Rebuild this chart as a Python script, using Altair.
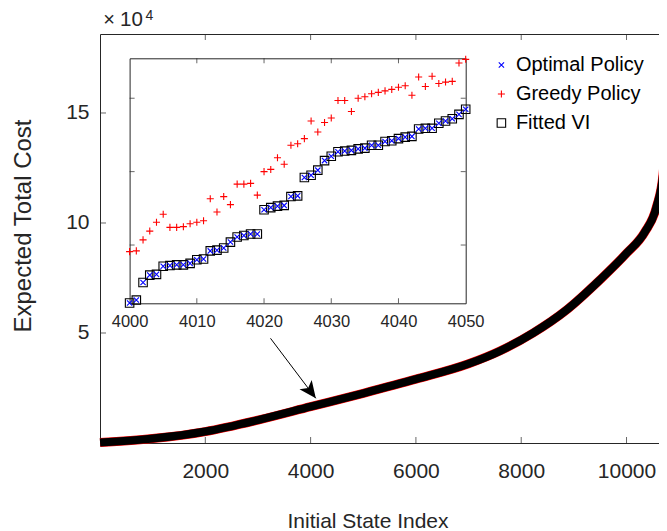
import altair as alt
import pandas as pd

# ---------------- data ----------------
# main curve (Initial State Index, Expected Total Cost)
main_x = [1, 1000, 2000, 3000, 4000, 5000, 6000, 7000, 7593, 8226, 8860, 9493, 10000, 10348, 10570, 10696, 10741, 10766]
main_y = [200, 2000, 5200, 10400, 16500, 22600, 29000, 36000, 41800, 50000, 60450, 74090, 86220, 95900, 107400, 122600, 142270, 157400]

# inset (states 4000..4050)
inset_idx = list(range(4000, 4051))
optimal = [16521, 16525, 16549, 16559, 16560, 16571, 16572, 16573, 16573, 16575,
           16580, 16581, 16592, 16593, 16596, 16604, 16611, 16613, 16615, 16615,
           16648, 16651, 16653, 16654, 16666, 16667, 16692, 16695, 16702, 16715,
           16721, 16727, 16728, 16729, 16731, 16732, 16736, 16736, 16741, 16742,
           16745, 16747, 16748, 16758, 16759, 16759, 16766, 16769, 16772, 16778, 16785]
greedy = [16591, 16592, 16607, 16619, 16631, 16642, 16624, 16624, 16625, 16629,
          16631, 16633, 16663, 16645, 16666, 16655, 16683, 16683, 16684, 16668,
          16700, 16703, 16719, 16710, 16736, 16738, 16745, 16769, 16754, 16767,
          16773, 16797, 16797, 16782, 16800, 16802, 16806, 16808, 16810, 16812,
          16815, 16817, 16804, 16829, 16816, 16830, 16820, 16822, 16823, 16848, 16853]
fitted = list(optimal)

series_names = ["Optimal Policy", "Greedy Policy", "Fitted VI"]

main_xticks = [2000, 4000, 6000, 8000, 10000]
main_yticks = [50000, 100000, 150000]
inset_xticks = [4000, 4010, 4020, 4030, 4040, 4050]
inset_xticks_inner = [4010, 4020, 4030, 4040]
inset_yticks = [16600, 16700, 16800]

main_xdom = [0, 10617]
main_ydom = [0, 185900]
inset_xdom = [4000, 4050]
inset_ydom = [16520.6, 16854.4]

# arrow annotation (main data coordinates): tail -> tip
arrow_x = [3238, 4099]
arrow_y = [47590, 20316]

# ---------------- style ----------------
F = "Liberation Sans"
TXT = "#262626"
W, H = 559, 409

mxs = alt.Scale(domain=main_xdom, nice=False, zero=False)
mys = alt.Scale(domain=main_ydom, nice=False, zero=False)
ixs = alt.Scale(domain=inset_xdom, range=[29.6, 365.7], nice=False, zero=False)
iys = alt.Scale(domain=inset_ydom, range=[269.3, 24.3], nice=False, zero=False)

main_df = pd.DataFrame({"x": main_x, "y": main_y})

red_band = alt.Chart(main_df).mark_line(color="#ff0000", strokeWidth=9, clip=False,
                                        interpolate="monotone").encode(
    x=alt.X("x:Q", scale=mxs, axis=alt.Axis(
        orient="bottom", values=main_xticks, title="Initial State Index", format="d",
        tickSize=0, labelPadding=17, labelFontSize=21, labelFont=F, labelColor=TXT,
        labelFlush=False, domainColor=TXT, grid=False,
        titleFont=F, titleFontSize=21, titleFontWeight="normal", titleColor=TXT,
        titleX=267.5, titleY=84, titleAlign="center", titleBaseline="alphabetic")),
    y=alt.Y("y:Q", scale=mys, axis=alt.Axis(
        orient="left", values=main_yticks, labelExpr="datum.value / 10000",
        title="Expected Total Cost", tickSize=0, labelPadding=11, labelFontSize=21,
        labelFont=F, labelColor=TXT, domainColor=TXT, grid=False,
        titleFont=F, titleFontSize=24, titleFontWeight="normal", titleColor=TXT,
        titleX=-70, titleY=191.5, titleAlign="center", titleAngle=270,
        titleBaseline="alphabetic")),
    order=alt.Order("x:Q"),
)

black_band = alt.Chart(main_df).mark_line(color="#000000", strokeWidth=8, clip=False,
                                          interpolate="monotone").encode(
    x=alt.X("x:Q", scale=mxs, axis=None),
    y=alt.Y("y:Q", scale=mys, axis=None),
    order=alt.Order("x:Q"),
)

mxt_df = pd.DataFrame({"t": main_xticks})
myt_df = pd.DataFrame({"t": main_yticks})

main_top = alt.Chart(mxt_df).mark_tick(orient="vertical", size=6, thickness=1, color=TXT, yOffset=3).encode(
    x=alt.X("t:Q", scale=mxs, axis=alt.Axis(orient="top", labels=False, ticks=False, title=None,
                                            domainColor=TXT, grid=False)),
    y=alt.YDatum(main_ydom[1], scale=mys, axis=None),
)
main_bottom = alt.Chart(mxt_df).mark_tick(orient="vertical", size=6, thickness=1, color=TXT, yOffset=-3).encode(
    x=alt.X("t:Q", scale=mxs, axis=None),
    y=alt.YDatum(main_ydom[0], scale=mys, axis=None),
)
main_left = alt.Chart(myt_df).mark_tick(orient="horizontal", size=6, thickness=1, color=TXT, xOffset=3).encode(
    y=alt.Y("t:Q", scale=mys, axis=None),
    x=alt.XDatum(main_xdom[0], scale=mxs, axis=None),
)

# inset points
rows = []
for name, vals in zip(series_names, [optimal, greedy, fitted]):
    for i, v in zip(inset_idx, vals):
        rows.append({"idx": i, "val": v, "series": name})
inset_df = pd.DataFrame(rows)

XPATH = "M-1,-1L1,1M-1,1L1,-1"
PPATH = "M-1,0L1,0M0,-1L0,1"

inset_pts = alt.Chart(inset_df).mark_point(filled=False, strokeWidth=1.1, opacity=1).encode(
    x=alt.X("idx:Q", scale=ixs, axis=alt.Axis(
        orient="bottom", offset=-139.7, values=inset_xticks, tickSize=0, labelPadding=10,
        labelFontSize=16.5, labelFont=F, labelColor=TXT, labelFlush=False, domainColor=TXT,
        grid=False, title=None, format="d")),
    y=alt.Y("val:Q", scale=iys, axis=alt.Axis(
        orient="left", offset=-29.6, values=inset_yticks, labels=False, ticks=False,
        domainColor=TXT, grid=False, title=None)),
    color=alt.Color("series:N", scale=alt.Scale(domain=series_names, range=["#0000ff", "#ff0000", "#000000"]),
                    title=None),
    shape=alt.Shape("series:N", scale=alt.Scale(domain=series_names, range=[XPATH, PPATH, "square"]),
                    title=None),
    size=alt.Size("series:N", scale=alt.Scale(domain=series_names, range=[28, 72, 50]), title=None),
    order=alt.Order("series:N"),
)

ixt_df = pd.DataFrame({"t": inset_xticks_inner})
iyt_df = pd.DataFrame({"t": inset_yticks})

inset_top = alt.Chart(ixt_df).mark_tick(orient="vertical", size=5, thickness=1, color=TXT, yOffset=2.5).encode(
    x=alt.X("t:Q", scale=ixs, axis=alt.Axis(orient="top", offset=-24.3, labels=False, ticks=False,
                                            title=None, domainColor=TXT, grid=False)),
    y=alt.YDatum(inset_ydom[1], scale=iys, axis=None),
)
inset_bottom = alt.Chart(ixt_df).mark_tick(orient="vertical", size=5, thickness=1, color=TXT, yOffset=-2.5).encode(
    x=alt.X("t:Q", scale=ixs, axis=None),
    y=alt.YDatum(inset_ydom[0], scale=iys, axis=None),
)
inset_left = alt.Chart(iyt_df).mark_tick(orient="horizontal", size=5, thickness=1, color=TXT, xOffset=2.5).encode(
    y=alt.Y("t:Q", scale=iys, axis=None),
    x=alt.XDatum(inset_xdom[0], scale=ixs, axis=None),
)
inset_right = alt.Chart(iyt_df).mark_tick(orient="horizontal", size=5, thickness=1, color=TXT, xOffset=-2.5).encode(
    y=alt.Y("t:Q", scale=iys, axis=alt.Axis(orient="right", offset=-(W - 365.7), labels=False, ticks=False,
                                            title=None, domainColor=TXT, grid=False)),
    x=alt.XDatum(inset_xdom[1], scale=ixs, axis=None),
)

# arrow
arrow_df = pd.DataFrame({"x": [arrow_x[0]], "y": [arrow_y[0]], "x2": [arrow_x[1]], "y2": [arrow_y[1]]})
arrow_line = alt.Chart(arrow_df).mark_rule(color="#000000", strokeWidth=1).encode(
    x=alt.X("x:Q", scale=mxs, axis=None), y=alt.Y("y:Q", scale=mys, axis=None),
    x2="x2:Q", y2="y2:Q",
)
head_df = pd.DataFrame({"x": [arrow_x[1]], "y": [arrow_y[1]]})
arrow_head = alt.Chart(head_df).mark_point(
    shape="M0,0L-0.45,1L0,0.75L0.45,1Z", filled=True, color="#000000", size=1156, angle=143, opacity=1
).encode(
    x=alt.X("x:Q", scale=mxs, axis=None), y=alt.Y("y:Q", scale=mys, axis=None),
)

# x10^4 multiplier
one = pd.DataFrame({"a": [0]})
exp_times = alt.Chart(one).mark_text(
    text="×", align="center", baseline="alphabetic", font=F, fontSize=20, color=TXT, dx=9, dy=-8
).encode(x=alt.XDatum(main_xdom[0], scale=mxs, axis=None), y=alt.YDatum(main_ydom[1], scale=mys, axis=None))
exp_ten = alt.Chart(one).mark_text(
    text="10", align="left", baseline="alphabetic", font=F, fontSize=20.5, color=TXT, dx=20, dy=-8
).encode(x=alt.XDatum(main_xdom[0], scale=mxs, axis=None), y=alt.YDatum(main_ydom[1], scale=mys, axis=None))
exp_sup = alt.Chart(one).mark_text(
    text="4", align="left", baseline="alphabetic", font=F, fontSize=14, color=TXT, dx=45.5, dy=-14.5
).encode(x=alt.XDatum(main_xdom[0], scale=mxs, axis=None), y=alt.YDatum(main_ydom[1], scale=mys, axis=None))

chart = alt.layer(
    red_band, black_band, main_top, main_bottom, main_left,
    inset_top, inset_bottom, inset_left, inset_right,
    arrow_line, arrow_head, inset_pts, exp_times, exp_ten, exp_sup,
).resolve_scale(x="independent", y="independent").properties(
    width=W, height=H,
    autosize=alt.AutoSizeParams(type="none"),
    padding={"left": 92, "top": 26, "right": 0, "bottom": 88},
    background="white",
).configure_view(stroke=None).configure_legend(
    orient="none", legendX=391.4, legendY=21, padding=0, labelFont=F, labelFontSize=20,
    labelColor="#000000", rowPadding=9, labelOffset=4.5, symbolStrokeWidth=1.1,
)

chart.save("out.html", embed_options={"renderer": "svg", "actions": False})
